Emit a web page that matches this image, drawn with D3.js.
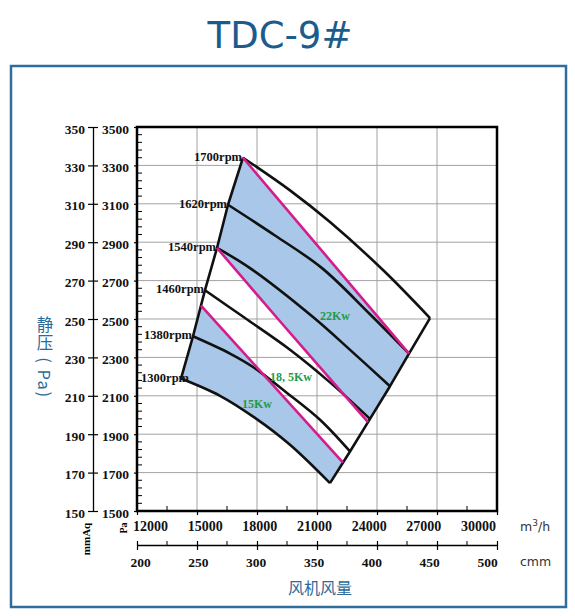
<!DOCTYPE html>
<html>
<head>
<meta charset="utf-8">
<script src="https://cdn.jsdelivr.net/npm/d3@7"></script>
<style>
  body { margin: 0; background: #fff; }
</style>
</head>
<body>
<script>
// TDC-9# 风机性能曲线

// 转速 (rpm)
const rpmList = [1700, 1620, 1540, 1460, 1380, 1300];

// 各转速曲线 [风量 m3/h, 静压 Pa]
const curve1700 = [[17300,3340],[19650,3170],[21650,3005],[24300,2755],[26650,2505]];
const curve1620 = [[16550,3095],[18900,2935],[21250,2765],[23650,2525],[25600,2320]];
const curve1540 = [[16000,2870],[17650,2765],[20800,2510],[22750,2330],[24650,2150]];
const curve1460 = [[15400,2650],[17400,2505],[19650,2340],[21650,2170],[23650,1980]];
const curve1380 = [[14800,2410],[16650,2320],[17800,2250],[19500,2115],[21150,1975],[22650,1810]];
const curve1300 = [[14200,2190],[16150,2100],[17900,1985],[19650,1845],[21650,1645]];

// 电机功率线
const powerNames = ['22Kw', '18, 5Kw', '15Kw'];
const power22 = [[17300,3340],[25600,2320]];
const power185 = [[16000,2870],[19050,2500],[23550,1963]];
const power15 = [[15200,2570],[22300,1752]];

// 刻度
const paTicks = [1500,1700,1900,2100,2300,2500,2700,2900,3100,3300,3500];
const mmAqTicks = [150,170,190,210,230,250,270,290,310,330,350];
const flowTicks = [12000,15000,18000,21000,24000,27000,30000];
const cmmTicks = [200,250,300,350,400,450,500];

render();

function render() {
    const W = 575, H = 616;
    const svg = d3.select('body').append('svg').attr('width', W).attr('height', H);
    const serif = 'Liberation Serif';
    const fmt = d3.format('d');

    const x = d3.scaleLinear().domain([12000, 30000]).range([137, 497]);
    const y = d3.scaleLinear().domain([1500, 3500]).range([511, 127]);
    const yMm = d3.scaleLinear().domain([150, 350]).range([511, 127]);
    const xCmm = d3.scaleLinear().domain([200, 500]).range([137, 497]);
    // 原图刻度文字往中间收了一点
    const xLab = d3.scaleLinear().domain([12000, 30000]).range([150, 478]);
    const xCmmLab = d3.scaleLinear().domain([200, 500]).range([140, 487]);

    const curves = [curve1700, curve1620, curve1540, curve1460, curve1380, curve1300];

    //外框
    svg.append('rect').attr('x', 11).attr('y', 66).attr('width', 555).attr('height', 541)
        .attr('fill', 'none').attr('stroke', '#2f6d9c').attr('stroke-width', 2.5);

    //标题
    svg.append('text').text('TDC-9#').attr('x', 280).attr('y', 48).attr('text-anchor', 'middle')
        .attr('font-family', 'DejaVu Sans').attr('font-size', 37).attr('fill', '#1c5c8c');

    //网格
    const grid = svg.append('g').attr('stroke', '#a3a3a3').attr('stroke-width', 1);
    grid.selectAll('line.v').data(flowTicks).join('line').attr('class', 'v')
        .attr('x1', d => x(d)).attr('x2', d => x(d)).attr('y1', y(3500)).attr('y2', y(1500));
    grid.selectAll('line.h').data(paTicks).join('line').attr('class', 'h')
        .attr('y1', d => y(d)).attr('y2', d => y(d)).attr('x1', x(12000)).attr('x2', x(30000));

    const line = d3.line().x(d => x(d[0])).y(d => y(d[1])).curve(d3.curveCatmullRom.alpha(0.5));
    const poly = d3.line().x(d => x(d[0])).y(d => y(d[1]));
    const asL = p => p.replace(/^M/, 'L');

    const starts = curves.map(c => c[0]);
    const ends = curves.map(c => c[c.length - 1]);

    //蓝色区域 15Kw: 左边界 -> 15Kw 功率线 -> 右边界 -> 1300 曲线
    const zone15 = poly([curve1300[0], curve1380[0], power15[0], power15[1], curve1300[curve1300.length - 1]])
        + asL(line(curve1300.slice().reverse())) + 'Z';
    //蓝色区域 22Kw: 左边界 -> 22Kw 功率线 -> 右边界 -> 18.5Kw 功率线
    const zone22 = poly([curve1540[0], curve1620[0], curve1700[0], power22[1],
            curve1540[curve1540.length - 1], curve1460[curve1460.length - 1]])
        + asL(line(power185.slice().reverse())) + 'Z';

    svg.append('g').selectAll('path').data([zone15, zone22]).join('path')
        .attr('d', d => d).attr('fill', '#a9c7e8').attr('stroke', 'none');

    //转速曲线
    svg.append('g').selectAll('path').data(curves).join('path')
        .attr('d', line).attr('fill', 'none').attr('stroke', '#111').attr('stroke-width', 2.6);
    //左右边界
    svg.append('g').selectAll('path').data([starts, ends]).join('path')
        .attr('d', poly).attr('fill', 'none').attr('stroke', '#111').attr('stroke-width', 2.6)
        .attr('stroke-linejoin', 'round');
    //功率线
    svg.append('g').selectAll('path').data([power22, power185, power15]).join('path')
        .attr('d', line).attr('fill', 'none').attr('stroke', '#d41c8c').attr('stroke-width', 2.6);

    //图框
    svg.append('rect').attr('x', x(12000)).attr('y', y(3500))
        .attr('width', x(30000) - x(12000)).attr('height', y(1500) - y(3500))
        .attr('fill', 'none').attr('stroke', '#000').attr('stroke-width', 2.5);

    //Pa 轴
    const paG = svg.append('g').attr('transform', `translate(${x(12000)},0)`)
        .call(d3.axisLeft(y).tickValues(paTicks).tickFormat(fmt).tickSize(3).tickPadding(5));
    paG.select('.domain').remove();
    paG.attr('font-family', serif).attr('font-size', 13.5).attr('font-weight', 'bold');
    paG.selectAll('.tick line').attr('stroke', '#000').attr('stroke-width', 1.2);
    paG.selectAll('text').attr('fill', '#111').attr('dy', '0.45em');
    const paMinor = d3.range(1500, 3500, 40).filter(v => !paTicks.includes(v));
    svg.append('g').selectAll('line').data(paMinor).join('line')
        .attr('x1', x(12000)).attr('x2', x(12000) + 5).attr('y1', d => y(d)).attr('y2', d => y(d))
        .attr('stroke', '#000').attr('stroke-width', 1);

    //mmAq 轴
    const mmG = svg.append('g').attr('transform', 'translate(93,0)')
        .call(d3.axisLeft(yMm).tickValues(mmAqTicks).tickFormat(fmt).tickSize(5).tickSizeOuter(0).tickPadding(3));
    mmG.attr('font-family', serif).attr('font-size', 13.5).attr('font-weight', 'bold');
    mmG.select('.domain').attr('stroke', '#000').attr('stroke-width', 1.3);
    mmG.selectAll('.tick line').attr('stroke', '#000').attr('stroke-width', 1.2);
    mmG.selectAll('.tick').append('line').attr('x2', 5).attr('stroke', '#000').attr('stroke-width', 1.2);
    mmG.selectAll('text').attr('fill', '#111').attr('dy', '0.45em');

    //风量轴 m3/h
    const xG = svg.append('g').attr('transform', `translate(0,${y(1500)})`)
        .call(d3.axisBottom(x).tickValues(flowTicks).tickFormat(fmt).tickSize(4));
    xG.select('.domain').remove();
    xG.attr('font-family', serif).attr('font-size', 14).attr('font-weight', 'bold');
    xG.selectAll('.tick line').attr('stroke', '#000').attr('stroke-width', 1.2);
    xG.selectAll('text').attr('fill', '#111').attr('x', d => xLab(d) - x(d)).attr('y', 20).attr('dy', 0);
    const flowMinor = d3.range(13500, 30000, 3000);
    svg.append('g').selectAll('line').data(flowMinor).join('line')
        .attr('x1', d => x(d)).attr('x2', d => x(d)).attr('y1', y(1500)).attr('y2', y(1500) - 5)
        .attr('stroke', '#000').attr('stroke-width', 1);

    //风量轴 cmm
    const cG = svg.append('g').attr('transform', 'translate(0,545)')
        .call(d3.axisBottom(xCmm).tickValues(cmmTicks).tickFormat(fmt).tickSize(5).tickSizeOuter(0));
    cG.attr('font-family', serif).attr('font-size', 13.5).attr('font-weight', 'bold');
    cG.select('.domain').attr('stroke', '#000').attr('stroke-width', 1.3);
    cG.selectAll('.tick line').attr('stroke', '#000').attr('stroke-width', 1.2);
    cG.selectAll('.tick').append('line').attr('y2', -4).attr('stroke', '#000').attr('stroke-width', 1.2);
    cG.selectAll('text').attr('fill', '#111').attr('x', d => xCmmLab(d) - xCmm(d)).attr('y', 22).attr('dy', 0);
    svg.append('g').selectAll('line').data(d3.range(225, 500, 50)).join('line')
        .attr('x1', d => xCmm(d)).attr('x2', d => xCmm(d)).attr('y1', 545).attr('y2', 541)
        .attr('stroke', '#000').attr('stroke-width', 1);

    //单位
    const unitM = svg.append('text').attr('x', 520).attr('y', 531)
        .attr('font-family', 'DejaVu Sans').attr('font-size', 12.5).attr('fill', '#333');
    unitM.append('tspan').text('m');
    unitM.append('tspan').attr('dy', -5).attr('font-size', 9).text('3');
    unitM.append('tspan').attr('dy', 5).text('/h');
    svg.append('text').attr('x', 520).attr('y', 566).text('cmm')
        .attr('font-family', 'DejaVu Sans').attr('font-size', 12.5).attr('fill', '#333');
    svg.append('text').attr('transform', 'translate(90,539) rotate(-90)').attr('text-anchor', 'middle')
        .attr('font-family', serif).attr('font-weight', 'bold').attr('font-size', 11).text('mmAq');
    svg.append('text').attr('transform', 'translate(127,528) rotate(-90)').attr('text-anchor', 'middle')
        .attr('font-family', serif).attr('font-weight', 'bold').attr('font-size', 10).text('Pa');

    //坐标标题
    svg.append('text').text('风机风量').attr('x', 320).attr('y', 594).attr('text-anchor', 'middle')
        .attr('font-family', 'Noto Sans CJK SC').attr('font-size', 16).attr('fill', '#2a6b9a');
    svg.append('text').attr('x', 45).attr('y', 316).text('静压 ( Pa)')
        .attr('font-family', 'Noto Sans CJK SC').attr('font-size', 16.5).attr('fill', '#2a6b9a')
        .attr('letter-spacing', 1.5)
        .style('writing-mode', 'vertical-rl');

    //转速标签
    const rpmDx = {1300: 9};
    svg.append('g').selectAll('text').data(rpmList).join('text')
        .attr('x', (d, i) => x(starts[i][0]) - 1 + (rpmDx[d] || 0))
        .attr('y', (d, i) => y(starts[i][1]) + 3)
        .attr('text-anchor', 'end').attr('font-family', serif).attr('font-weight', 'bold')
        .attr('font-size', 12.5).attr('fill', '#111').text(d => d + 'rpm');

    //功率标签
    const powerAt = {'22Kw': [21150, 2495], '18, 5Kw': [18650, 2177], '15Kw': [17250, 2036]};
    svg.append('g').selectAll('text').data(powerNames).join('text')
        .attr('x', d => x(powerAt[d][0])).attr('y', d => y(powerAt[d][1]))
        .attr('font-family', serif).attr('font-weight', 'bold').attr('font-size', 12)
        .attr('fill', '#1f9a4a').text(d => d);
}
</script>
</body>
</html>
